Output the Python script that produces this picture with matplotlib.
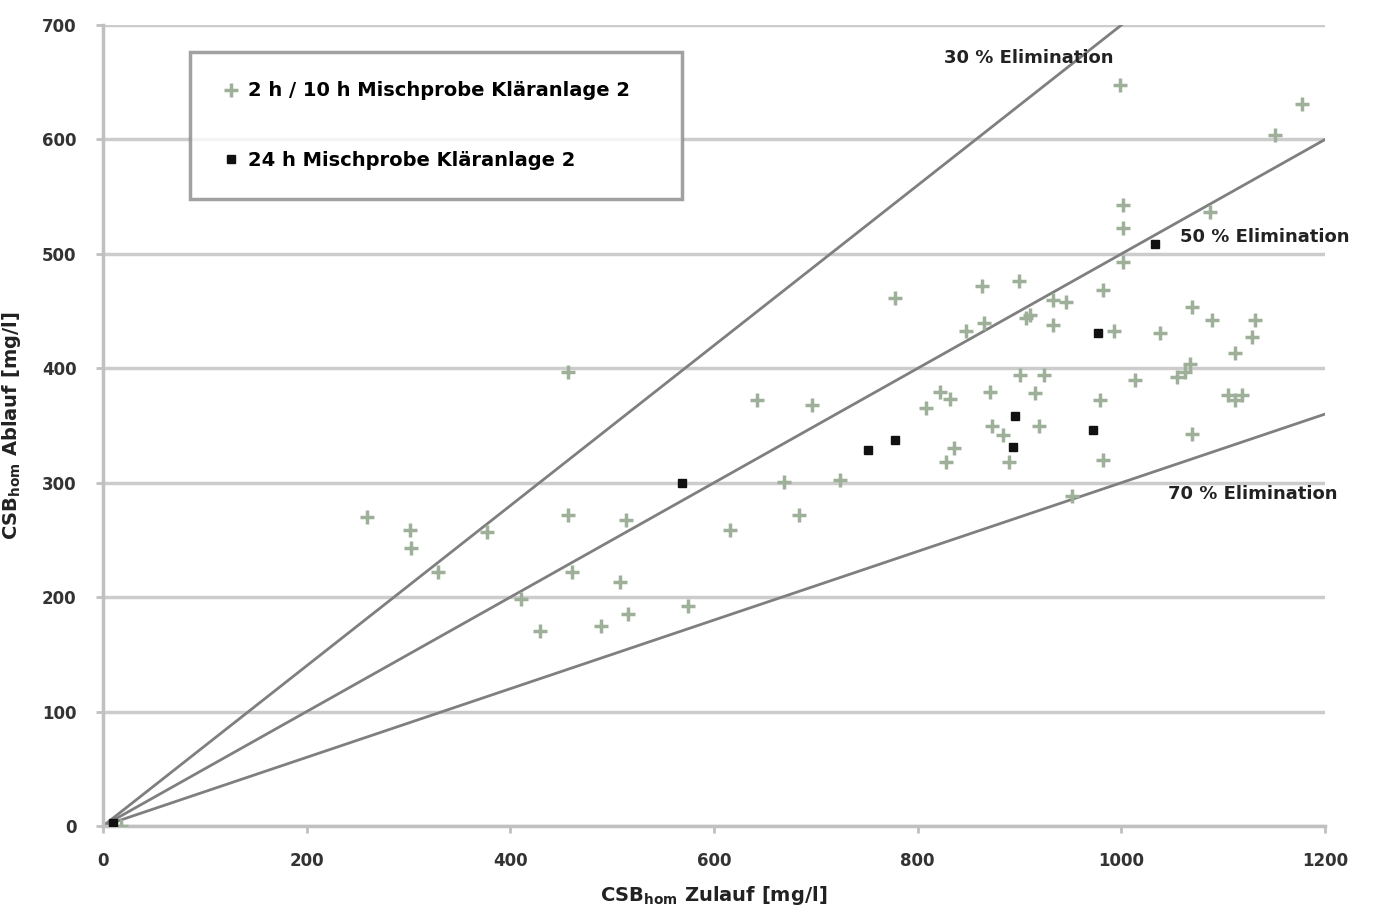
import numpy as np
import matplotlib.pyplot as plt

plt.rcParams['font.family'] = ['DejaVu Sans']

# 2 h / 10 h Mischprobe Klaeranlage 2
mix_x = [18, 259, 301, 302, 329, 377, 410, 429, 457, 457, 461, 489, 508, 514, 516,
         574, 616, 642, 669, 683, 696, 724, 778, 808, 822, 828, 832, 836, 847, 863,
         865, 871, 873, 884, 890, 899, 900, 906, 910, 915, 919, 924, 933, 933, 946,
         951, 979, 982, 982, 993, 999, 1002, 1002, 1002, 1013, 1038, 1055, 1062, 1067,
         1069, 1069, 1087, 1089, 1105, 1112, 1112, 1118, 1128, 1131, 1151, 1177]
mix_y = [0, 270, 259, 243, 222, 257, 198, 170, 397, 272, 222, 175, 213, 267, 185,
         192, 259, 372, 301, 272, 368, 302, 461, 365, 379, 318, 373, 330, 433, 472,
         440, 379, 350, 342, 318, 476, 394, 444, 447, 378, 350, 394, 460, 438, 458,
         288, 372, 468, 320, 433, 648, 543, 523, 493, 390, 431, 392, 397, 404,
         343, 454, 537, 442, 377, 413, 372, 377, 427, 442, 604, 631]

# 24 h Mischprobe Klaeranlage 2
day_x = [10, 569, 751, 778, 894, 896, 972, 977, 1033]
day_y = [3, 300, 329, 337, 331, 358, 346, 431, 509]

# Eliminationsgeraden
elim_pct = [30, 50, 70]
elim_label_x = [826, 1058, 1046]
elim_label_y = [671, 515, 290]

fig = plt.figure(figsize=(13.77, 9.13), dpi=100)
ax = fig.add_axes([0.0748, 0.0953, 0.8875, 0.8773])

x_line = np.array([0, 1200])
for pct, lx, ly in zip(elim_pct, elim_label_x, elim_label_y):
    ax.plot(x_line, x_line * (1 - pct / 100), color="#7f7f7f", lw=2, zorder=2)
    ax.text(lx, ly, f"{pct} % Elimination", fontsize=13, fontweight="bold",
            color="#222222", va="center", ha="left", zorder=4)

ax.plot(mix_x, mix_y, linestyle="", marker="+", ms=10, mew=2.5, color="#9fb09a",
        label="2 h / 10 h Mischprobe Kläranlage 2", zorder=3)
ax.plot(day_x, day_y, linestyle="", marker="s", ms=6, color="#111111",
        label="24 h Mischprobe Kläranlage 2", zorder=3)

ax.set_xlim(0, 1200)
ax.set_ylim(0, 700)
ax.set_xticks(range(0, 1201, 200))
ax.set_yticks(range(0, 701, 100))
ax.yaxis.grid(True, color="#cccccc", lw=2.5)
ax.set_axisbelow(True)
for s in ["top", "right"]:
    ax.spines[s].set_visible(False)
ax.spines["left"].set_color("#c0c0c0")
ax.spines["left"].set_linewidth(2.5)
ax.spines["bottom"].set_color("#c0c0c0")
ax.spines["bottom"].set_linewidth(2.5)
ax.tick_params(axis="both", colors="#c0c0c0", labelcolor="#333333", labelsize=12,
               length=5, width=2)
ax.tick_params(axis="x", pad=14)
ax.tick_params(axis="y", pad=14)
for lbl in ax.get_xticklabels() + ax.get_yticklabels():
    lbl.set_fontweight("bold")

ax.set_xlabel("CSB$_{\\mathbf{hom}}$ Zulauf [mg/l]", fontsize=14, fontweight="bold",
              color="#222222", labelpad=10)
ax.set_ylabel("CSB$_{\\mathbf{hom}}$ Ablauf [mg/l]", fontsize=14, fontweight="bold",
              color="#222222", labelpad=14)

# legend box spans roughly the same width as in the original
leg = ax.legend(loc="upper left", bbox_to_anchor=(0.071, 0.0, 0.403, 0.966),
                mode="expand",
                prop={"weight": "bold", "size": 14}, frameon=True, fancybox=False,
                edgecolor="#8a8a8a", borderpad=1.5, labelspacing=2.6,
                handletextpad=0.3, handlelength=1.2, borderaxespad=0)
leg.get_frame().set_linewidth(2.5)

fig.savefig("out.png", dpi=100)
